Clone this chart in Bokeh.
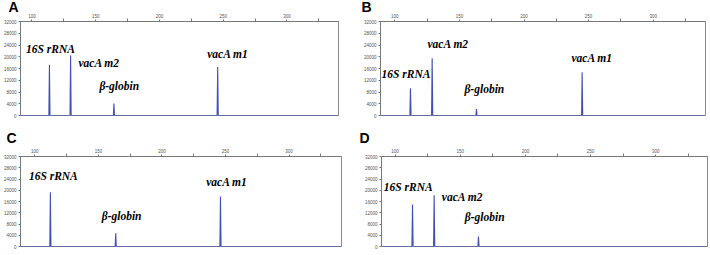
from bokeh.plotting import figure
from bokeh.layouts import column, row
from bokeh.models import Range1d, LinearAxis, FixedTicker, Title
from bokeh.core.properties import value
from bokeh.embed import file_html
from bokeh.resources import INLINE

# ---- data (fragment size in bp, peak height in RFU) ----
bp_ticks = [100, 150, 200, 250, 300]
bp_minor = [125, 175, 225, 275, 325]
rfu_ticks = [0, 4000, 8000, 12000, 16000, 20000, 24000, 28000, 32000]

a_markers = ["16S rRNA", "vacA m2", "β-globin", "vacA m1"]
a_size = [113.7, 130.3, 164.3, 245.7]
a_rfu = [17300, 20400, 4100, 16500]

b_markers = ["16S rRNA", "vacA m2", "β-globin", "vacA m1"]
b_size = [112.1, 128.9, 163.2, 245.0]
b_rfu = [9300, 19500, 2200, 14700]

c_markers = ["16S rRNA", "β-globin", "vacA m1"]
c_size = [112.2, 163.6, 246.0]
c_rfu = [19300, 4700, 17800]

d_markers = ["16S rRNA", "vacA m2", "β-globin"]
d_size = [113.4, 130.0, 164.0]
d_rfu = [14900, 18200, 3500]

TRACE = "#3f51b5"


def panel(letter, markers, sizes, rfus, lab_x, lab_y, xr, h, borders, loff, lstand):
    left, right, top, bottom = borders
    p = figure(width=355, height=h, output_backend="svg", toolbar_location=None,
               x_range=Range1d(*xr), y_range=Range1d(0, 32000),
               x_axis_location=None, y_axis_location=None,
               min_border_left=left, min_border_right=right,
               min_border_top=top, min_border_bottom=bottom)
    p.xgrid.visible = False
    p.ygrid.visible = False
    p.outline_line_color = "#8a8a8a"
    p.background_fill_color = "white"
    p.border_fill_color = "white"

    ya = LinearAxis(ticker=FixedTicker(ticks=rfu_ticks))
    ya.major_label_text_font_size = "4.5px"
    ya.major_label_text_color = "#555555"
    ya.major_label_standoff = 2
    ya.major_tick_out = 2
    ya.major_tick_in = 0
    ya.minor_tick_out = 0
    ya.axis_line_color = "#777777"
    ya.major_tick_line_color = "#777777"
    p.add_layout(ya, "left")

    xa = LinearAxis(ticker=FixedTicker(ticks=bp_ticks, minor_ticks=bp_minor))
    xa.major_label_text_font_size = "4.5px"
    xa.major_label_text_color = "#555555"
    xa.major_label_standoff = 1
    xa.major_tick_out = 2
    xa.major_tick_in = 0
    xa.minor_tick_out = 3
    xa.minor_tick_in = 0
    xa.axis_line_color = "#777777"
    xa.major_tick_line_color = "#777777"
    xa.minor_tick_line_color = "#777777"
    p.add_layout(xa, "above")

    # panel letter as a left-aligned title above the top axis
    p.add_layout(Title(text=letter, text_font="Liberation Sans", text_font_style="bold",
                       text_font_size="14px", text_color="black", align="left",
                       offset=loff, standoff=lstand), "above")

    # trace built from peak positions and heights
    w = 0.45
    xs = [xr[0]]
    ys = [0]
    for s, r in sorted(zip(sizes, rfus)):
        xs += [s - w, s, s + w]
        ys += [0, r, 0]
    xs.append(xr[1])
    ys.append(0)
    p.line(xs, ys, line_color=TRACE, line_width=1.1)

    p.text(x=lab_x, y=lab_y, text=markers,
           text_font=value("Liberation Serif"), text_font_style="bold italic",
           text_font_size="11.5px", text_color="black",
           text_align="left", text_baseline="middle")
    return p


pa = panel("A", a_markers, a_size, a_rfu,
           [95.3, 136.5, 152.9, 237.5], [22470, 18040, 10210, 21100],
           (91.0, 340.5), 127, (18, 17, 21, 12), -12, -8)
pb = panel("B", b_markers, b_size, b_rfu,
           [89.7, 125.3, 153.9, 236.7], [14280, 24310, 8930, 19630],
           (88.9, 340.5), 127, (25, 5, 21, 10), -19, -8)
pc = panel("C", c_markers, c_size, c_rfu,
           [95.3, 152.6, 234.8], [24950, 10760, 22910],
           (88.7, 341.2), 128, (18, 14, 29, 5), -14, 0)
pd = panel("D", d_markers, d_size, d_rfu,
           [91.4, 135.9, 153.5], [21260, 17660, 10410],
           (89.6, 339.7), 128, (26, 3, 24, 9), -22, 0)

layout = column(row(pa, pb), row(pc, pd))
open("out.html", "w").write(file_html(layout, INLINE))
